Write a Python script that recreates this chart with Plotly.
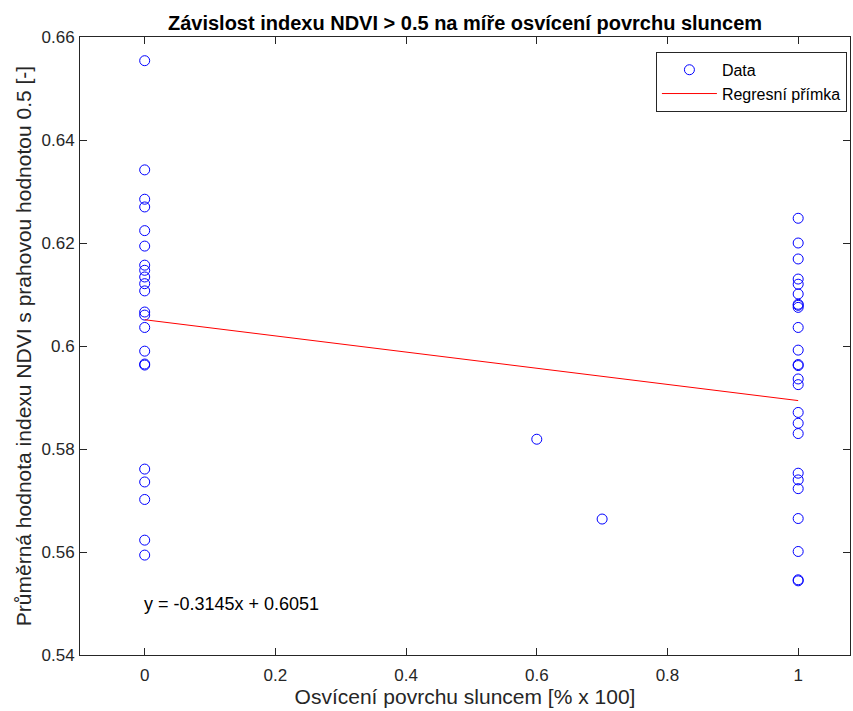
import plotly.graph_objects as go

# Data
x_zero = [0] * 22
y_zero = [0.6554, 0.6342, 0.6285, 0.6270, 0.6224, 0.6194, 0.6157, 0.6147, 0.6134,
          0.6121, 0.6107, 0.6066, 0.6060, 0.6036, 0.5990, 0.5965, 0.5963, 0.5761,
          0.5736, 0.5702, 0.5623, 0.5594]
x_mid = [0.6, 0.7]
y_mid = [0.5819, 0.5664]
x_one = [1] * 25
y_one = [0.6248, 0.6200, 0.6169, 0.6130, 0.6120, 0.6101, 0.6081, 0.6079, 0.6075,
         0.6036, 0.5992, 0.5964, 0.5962, 0.5936, 0.5925, 0.5871, 0.5850, 0.5830,
         0.5753, 0.5740, 0.5723, 0.5665, 0.5601, 0.5546, 0.5544]
data_x = x_zero + x_mid + x_one
data_y = y_zero + y_mid + y_one

line_x = [0, 1]
line_y = [0.6051, 0.5894]

eq_text = "y = -0.3145x + 0.6051"
eq_pos = (0, 0.55)

x_ticks = [0, 0.2, 0.4, 0.6, 0.8, 1]
x_ticktext = ["0", "0.2", "0.4", "0.6", "0.8", "1"]
y_ticks = [0.54, 0.56, 0.58, 0.60, 0.62, 0.64, 0.66]
y_ticktext = ["0.54", "0.56", "0.58", "0.6", "0.62", "0.64", "0.66"]

FONT = "Liberation Sans, Arial, Helvetica, sans-serif"
AX = "#262626"

fig = go.Figure()
fig.add_trace(go.Scatter(
    x=data_x, y=data_y, mode="markers", name="Data",
    marker=dict(symbol="circle-open", size=10, color="#0000FF", line=dict(width=1, color="#0000FF")),
))
fig.add_trace(go.Scatter(
    x=line_x, y=line_y, mode="lines", name="Regresní přímka",
    line=dict(color="#FF0000", width=1),
))

fig.add_annotation(x=eq_pos[0], y=eq_pos[1], text=eq_text, showarrow=False, xshift=-3,
                   xanchor="left", yanchor="middle", font=dict(size=18, color="black", family=FONT))

axis_common = dict(
    showline=True, linecolor=AX, linewidth=1, mirror="ticks",
    ticks="inside", ticklen=7, tickcolor=AX, tickwidth=1,
    showgrid=False, zeroline=False,
    tickfont=dict(size=17, color=AX, family=FONT),
)

fig.update_layout(
    width=853, height=711,
    margin=dict(l=80, r=3, t=37, b=56),
    paper_bgcolor="white", plot_bgcolor="white",
    font=dict(family=FONT, color=AX),
    title=dict(text="<b>Závislost indexu NDVI > 0.5 na míře osvícení povrchu sluncem</b>",
               x=(80 + 850) / 2 / 853, xanchor="center", y=1 - 23 / 711, yanchor="middle",
               font=dict(size=20, color="black", family=FONT)),
    xaxis=dict(range=[-0.099, 1.0793], tickvals=x_ticks, ticktext=x_ticktext, ticklabelstandoff=5,
               title=dict(text="Osvícení povrchu sluncem [% x 100]", font=dict(size=21, color=AX), standoff=1),
               **axis_common),
    yaxis=dict(range=[0.54, 0.66], tickvals=y_ticks, ticktext=y_ticktext, ticklabelstandoff=1,
               title=dict(text="Průměrná hodnota indexu NDVI s prahovou hodnotou 0.5 [-]", font=dict(size=21, color=AX), standoff=4),
               **axis_common),
    legend=dict(x=0.996, y=0.976, xanchor="right", yanchor="top",
                bordercolor=AX, borderwidth=1, bgcolor="white",
                font=dict(size=16, color="black", family=FONT),
                tracegroupgap=0, itemwidth=55),
    showlegend=True,
)

fig.write_html("out.html")
